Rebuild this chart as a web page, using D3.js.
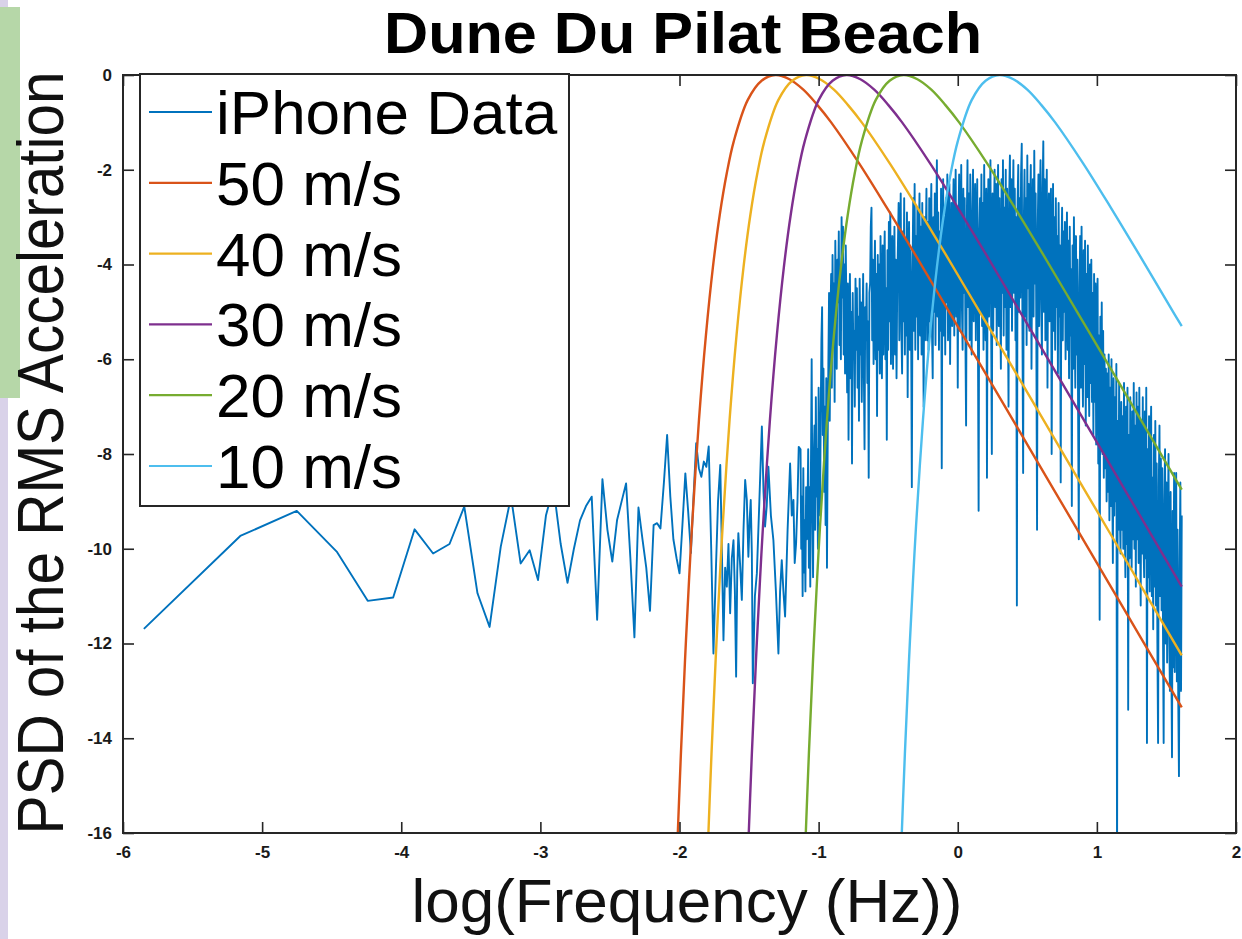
<!DOCTYPE html>
<html>
<head>
<meta charset="utf-8">
<script src="https://cdn.jsdelivr.net/npm/d3@7"></script>
<style>
  html, body { margin: 0; padding: 0; background: #ffffff; }
  svg { display: block; font-family: "Liberation Sans", Arial, Helvetica, sans-serif; }
</style>
</head>
<body>
<svg id="chart" width="1242" height="939"></svg>
<script>
// ---- axis ticks and series labels ----
const xTicks = [-6, -5, -4, -3, -2, -1, 0, 1, 2];
const yTicks = [0, -2, -4, -6, -8, -10, -12, -14, -16];
const seriesNames = ["iPhone Data", "50 m/s", "40 m/s", "30 m/s", "20 m/s", "10 m/s"];
const seriesColors = ["#0072BD", "#D95319", "#EDB120", "#7E2F8E", "#77AC30", "#4DBEEE"];

// ---- measured PSD: low-frequency bins as [log f, psd] ----
const psdLow = [
  [-5.850, -11.69], [-5.157, -9.73], [-4.751, -9.20], [-4.464, -10.06], [-4.241, -11.10],
  [-4.058, -11.03], [-3.904, -9.59], [-3.771, -10.10], [-3.653, -9.90], [-3.547, -9.11],
  [-3.452, -10.94], [-3.365, -11.65], [-3.285, -9.96], [-3.211, -8.90], [-3.142, -10.31],
  [-3.077, -10.03], [-3.017, -10.66], [-2.960, -9.30], [-2.906, -8.70], [-2.854, -9.90],
  [-2.805, -10.72], [-2.759, -10.00], [-2.715, -9.40], [-2.672, -9.10], [-2.631, -8.90],
  [-2.592, -11.50], [-2.554, -8.53], [-2.518, -9.60], [-2.483, -10.27], [-2.449, -9.40],
  [-2.416, -9.00], [-2.384, -8.62], [-2.353, -10.20], [-2.324, -11.87], [-2.295, -9.13],
  [-2.266, -9.80], [-2.239, -10.40], [-2.212, -11.31], [-2.186, -9.50], [-2.161, -9.46],
  [-2.137, -9.57], [-2.112, -8.60], [-2.089, -7.60], [-2.066, -8.90], [-2.044, -9.80],
  [-2.021, -10.20], [-2.000, -10.52], [-1.979, -9.50], [-1.958, -8.41], [-1.938, -9.20],
  [-1.918, -10.09], [-1.899, -8.90], [-1.880, -7.77], [-1.861, -8.30], [-1.843, -8.48],
  [-1.825, -8.16], [-1.807, -8.27], [-1.790, -7.84], [-1.772, -10.00], [-1.756, -12.21],
  [-1.739, -10.50], [-1.723, -9.00], [-1.707, -8.23], [-1.695, -10.10], [-1.684, -11.93],
  [-1.672, -10.40], [-1.660, -10.80], [-1.648, -9.90], [-1.636, -11.36], [-1.624, -10.20],
  [-1.612, -9.82], [-1.602, -10.90], [-1.593, -12.70], [-1.585, -10.50], [-1.577, -9.67],
  [-1.565, -10.30], [-1.552, -11.08], [-1.540, -9.60], [-1.528, -8.55], [-1.516, -8.97],
  [-1.505, -10.17], [-1.496, -9.40], [-1.488, -8.97], [-1.480, -10.10], [-1.473, -12.84],
  [-1.458, -11.00], [-1.444, -10.52], [-1.426, -9.00], [-1.408, -7.42], [-1.396, -8.80],
  [-1.385, -9.53], [-1.373, -9.10], [-1.361, -8.27], [-1.343, -9.30], [-1.325, -9.82],
  [-1.307, -10.90], [-1.289, -12.21], [-1.277, -10.90], [-1.265, -10.24], [-1.253, -10.90],
  [-1.241, -11.43], [-1.223, -9.60], [-1.205, -8.20], [-1.193, -9.30], [-1.181, -8.97],
  [-1.172, -10.30], [-1.162, -9.89], [-1.152, -9.00], [-1.143, -7.85]
];

// ---- measured PSD: dense bins, sampled every 0.005 in log f from -1.13 to 1.61 ----
const psdDenseStart = -1.13;
const psdDenseStep = 0.005;
const psdDense = [
  -7.9, -10.0, -8.9, -11.0, -8.3, -10.5, -9.4, -10.9, -8.7, -9.8, -9.2, -7.9, -10.4, -8.7, -10.8, -8.2, -6.0, -9.0, -10.6, -8.1,
  -7.4, -9.6, -6.8, -8.9, -7.9, -10.0, -6.6, -8.4, -9.3, -7.2, -5.6, -4.9, -7.6, -6.2, -8.8, -7.0, -9.5, -6.4, -10.4, -7.8,
  -6.1, -4.6, -7.3, -5.2, -4.2, -6.6, -3.8, -5.5, -4.4, -6.9, -3.5, -5.0, -6.2, -3.9, -4.8, -3.3, -5.7, -4.1, -6.0, -3.0,
  -4.7, -3.2, -5.9, -4.0, -6.3, -3.6, -5.1, -6.7, -4.4, -7.7, -5.3, -4.2, -6.4, -5.0, -8.2, -4.6, -6.0, -5.4, -7.0, -4.3,
  -5.8, -4.5, -6.6, -5.1, -7.3, -4.3, -5.9, -4.8, -6.9, -5.5, -4.2, -6.2, -7.9, -4.9, -5.6, -4.4, -6.5, -5.2, -8.5, -4.6,
  -4.4, -3.2, -2.8, -5.6, -3.9, -6.1, -4.5, -3.5, -6.0, -4.2, -7.2, -3.8, -5.8, -4.0, -6.3, -3.4, -5.4, -6.4, -3.6, -5.9,
  -4.1, -3.3, -6.0, -4.5, -7.7, -3.7, -5.8, -3.1, -5.2, -2.9, -6.1, -4.0, -3.4, -6.2, -4.6, -3.2, -5.9, -3.9, -6.4, -4.4,
  -3.6, -2.7, -5.6, -3.9, -2.5, -5.4, -6.3, -3.3, -5.2, -2.6, -5.9, -3.5, -5.5, -2.9, -6.8, -4.0, -3.1, -5.8, -3.7, -5.3,
  -8.7, -4.2, -2.6, -5.4, -2.3, -5.8, -3.4, -5.1, -2.8, -6.0, -3.6, -2.5, -5.5, -3.2, -5.9, -2.7, -4.9, -7.0, -3.0, -5.6,
  -3.5, -2.4, -5.6, -3.1, -5.8, -2.6, -5.2, -3.3, -2.3, -5.4, -6.4, -3.0, -5.0, -2.5, -5.7, -3.4, -1.8, -5.1, -2.9, -5.8,
  -3.3, -5.4, -2.4, -8.3, -3.8, -2.2, -5.5, -3.0, -5.9, -2.6, -4.8, -2.1, -5.6, -3.4, -2.3, -6.1, -3.9, -2.7, -5.3, -3.1,
  -2.2, -5.5, -3.5, -2.0, -5.1, -2.8, -6.6, -3.2, -2.1, -5.4, -3.6, -1.9, -4.9, -5.8, -2.4, -4.6, -2.6, -5.5, -7.4, -3.1,
  -1.8, -4.9, -2.5, -5.6, -2.1, -4.7, -5.9, -2.9, -2.0, -5.2, -3.1, -2.3, -5.6, -3.6, -2.2, -5.4, -9.2, -3.3, -2.6, -5.0,
  -2.1, -5.3, -2.7, -5.8, -1.9, -4.5, -5.6, -2.4, -8.5, -3.5, -2.2, -5.1, -2.9, -1.8, -5.2, -8.0, -2.5, -5.4, -3.0, -2.0,
  -4.9, -2.3, -5.7, -3.1, -1.9, -5.3, -2.6, -4.8, -6.2, -2.2, -4.6, -1.8, -5.5, -2.8, -4.9, -2.0, -5.8, -2.4, -4.7, -7.0,
  -2.5, -1.7, -4.9, -2.2, -5.4, -2.9, -1.8, -4.6, -2.4, -5.6, -3.0, -11.2, -2.7, -1.9, -5.0, -2.6, -4.7, -2.1, -1.45, -5.3,
  -8.4, -3.1, -2.0, -5.1, -2.6, -5.7, -1.7, -4.5, -2.3, -5.4, -2.9, -1.9, -6.2, -3.5, -2.2, -5.1, -1.6, -4.4, -2.5, -5.6,
  -9.6, -3.2, -2.1, -5.3, -2.7, -1.8, -4.8, -5.9, -2.4, -1.4, -5.0, -2.2, -5.6, -3.0, -2.0, -6.6, -3.4, -2.5, -5.2, -2.8,
  -2.4, -8.0, -4.6, -2.3, -5.4, -3.0, -5.8, -2.6, -4.9, -3.4, -6.3, -2.7, -5.1, -3.6, -8.6, -3.9, -2.8, -5.6, -3.3, -5.0,
  -3.1, -6.0, -4.0, -2.9, -5.8, -3.5, -6.4, -3.2, -5.5, -4.1, -9.1, -3.6, -6.2, -3.0, -5.1, -6.6, -3.4, -5.9, -3.9, -7.0,
  -9.8, -4.5, -3.4, -6.6, -3.2, -5.8, -7.0, -3.7, -6.1, -3.5, -7.4, -4.2, -6.8, -3.6, -5.9, -7.2, -4.0, -6.5, -3.9, -6.9,
  -4.6, -7.6, -4.2, -6.9, -4.4, -7.8, -5.0, -4.3, -8.2, -5.5, -11.5, -5.1, -7.9, -4.8, -8.0, -5.4, -8.5, -5.9, -8.3, -6.2,
  -9.0, -6.3, -8.8, -5.9, -9.4, -6.6, -9.1, -6.0, -8.4, -10.3, -6.4, -9.3, -6.8, -9.0, -6.1, -16.8, -7.3, -9.6, -6.5, -9.2,
  -10.1, -6.9, -9.6, -7.2, -10.0, -6.5, -9.4, -10.6, -7.0, -9.9, -6.6, -13.4, -7.6, -10.2, -6.8, -9.5, -10.4, -7.1, -9.8, -6.5,
  -10.0, -7.4, -10.8, -6.7, -9.8, -7.0, -10.3, -6.6, -9.5, -11.2, -7.3, -10.1, -6.8, -9.9, -10.6, -7.1, -10.2, -6.6, -14.1, -7.9,
  -10.6, -7.2, -10.9, -8.0, -7.0, -11.0, -8.5, -11.7, -7.6, -10.8, -7.3, -11.2, -8.2, -12.0, -14.1, -8.7, -7.4, -11.0, -8.1, -11.3,
  -8.3, -11.6, -14.1, -9.0, -7.9, -12.0, -8.6, -12.4, -9.5, -8.0, -11.8, -13.0, -8.8, -12.2, -14.4, -9.2, -12.5, -8.4, -12.6, -9.9,
  -8.4, -12.8, -9.6, -13.2, -14.8, -10.4, -8.6, -13.0, -9.3
];

// ---- wind-speed model spectra as [log f, psd] ----
const model50 = [
  [-2.02, -16.6], [-1.99, -14.33], [-1.96, -12.33], [-1.93, -10.58], [-1.91, -9.53],
  [-1.86, -7.28], [-1.81, -5.49], [-1.76, -4.06], [-1.71, -2.94], [-1.66, -2.07],
  [-1.61, -1.40], [-1.51, -0.53], [-1.41, -0.12], [-1.31, 0], [-1.21, -0.09],
  [-1.11, -0.31], [-1.01, -0.63], [-0.91, -1.0], [-0.71, -1.86], [-0.51, -2.80],
  [-0.31, -3.77], [-0.06, -5.01], [0.19, -6.25], [0.69, -8.75], [1.19, -11.25], [1.61, -13.35]
];
const model40 = [
  [-1.80, -16.6], [-1.77, -14.33], [-1.74, -12.33], [-1.71, -10.58], [-1.69, -9.53],
  [-1.64, -7.28], [-1.59, -5.49], [-1.54, -4.06], [-1.49, -2.94], [-1.44, -2.07],
  [-1.39, -1.40], [-1.29, -0.53], [-1.19, -0.12], [-1.09, 0], [-0.99, -0.09],
  [-0.89, -0.31], [-0.79, -0.63], [-0.69, -1.0], [-0.49, -1.86], [-0.29, -2.80],
  [-0.09, -3.77], [0.16, -5.01], [0.41, -6.25], [0.91, -8.75], [1.41, -11.25], [1.61, -12.25]
];
const model30 = [
  [-1.51, -16.6], [-1.48, -14.33], [-1.45, -12.33], [-1.42, -10.58], [-1.40, -9.53],
  [-1.35, -7.28], [-1.30, -5.49], [-1.25, -4.06], [-1.20, -2.94], [-1.15, -2.07],
  [-1.10, -1.40], [-1.00, -0.53], [-0.90, -0.12], [-0.80, 0], [-0.70, -0.09],
  [-0.60, -0.31], [-0.50, -0.63], [-0.40, -1.0], [-0.20, -1.86], [0.00, -2.80],
  [0.20, -3.77], [0.45, -5.01], [0.70, -6.25], [1.20, -8.75], [1.61, -10.80]
];
const model20 = [
  [-1.10, -16.6], [-1.07, -14.33], [-1.04, -12.33], [-1.01, -10.58], [-0.99, -9.53],
  [-0.94, -7.28], [-0.89, -5.49], [-0.84, -4.06], [-0.79, -2.94], [-0.74, -2.07],
  [-0.69, -1.40], [-0.59, -0.53], [-0.49, -0.12], [-0.39, 0], [-0.29, -0.09],
  [-0.19, -0.31], [-0.09, -0.63], [0.01, -1.0], [0.21, -1.86], [0.41, -2.80],
  [0.61, -3.77], [0.86, -5.01], [1.11, -6.25], [1.61, -8.75]
];
const model10 = [
  [-0.41, -16.6], [-0.38, -14.33], [-0.35, -12.33], [-0.32, -10.58], [-0.30, -9.53],
  [-0.25, -7.28], [-0.20, -5.49], [-0.15, -4.06], [-0.10, -2.94], [-0.05, -2.07],
  [0.00, -1.40], [0.10, -0.53], [0.20, -0.12], [0.30, 0], [0.40, -0.09],
  [0.50, -0.31], [0.60, -0.63], [0.70, -1.0], [0.90, -1.86], [1.10, -2.80],
  [1.30, -3.77], [1.55, -5.01], [1.61, -5.30]
];

// ---- layout ----
const plot = { left: 123, right: 1236, top: 75, bottom: 833 };
const axisColor = "#262626";

const svg = d3.select("#chart");

// side strips along the left edge
svg.append("rect").attr("x", 0).attr("y", 0).attr("width", 8).attr("height", 939).attr("fill", "#d9d2e9");
svg.append("rect").attr("x", 0).attr("y", 7).attr("width", 20).attr("height", 391).attr("fill", "#b6d7a8");

const x = d3.scaleLinear().domain([-6, 2]).range([plot.left, plot.right]);
const y = d3.scaleLinear().domain([-16, 0]).range([plot.bottom, plot.top]);

svg.append("defs").append("clipPath").attr("id", "plot-clip")
  .append("rect")
  .attr("x", plot.left).attr("y", plot.top)
  .attr("width", plot.right - plot.left).attr("height", plot.bottom - plot.top);

const line = d3.line().x(d => x(d[0])).y(d => y(d[1]));
const smooth = d3.line().x(d => x(d[0])).y(d => y(d[1])).curve(d3.curveCatmullRom.alpha(0.5));

// measured series: low bins followed by the dense bins
const psdAll = psdLow.concat(psdDense.map((v, i) => [+(psdDenseStart + i * psdDenseStep).toFixed(3), v]));

const plotArea = svg.append("g").attr("clip-path", "url(#plot-clip)");

plotArea.append("path")
  .datum(psdAll)
  .attr("d", line)
  .attr("fill", "none")
  .attr("stroke", seriesColors[0])
  .attr("stroke-width", 1.9)
  .attr("stroke-linejoin", "round");

const models = [model50, model40, model30, model20, model10];
models.forEach((m, i) => {
  plotArea.append("path")
    .datum(m)
    .attr("d", smooth)
    .attr("fill", "none")
    .attr("stroke", seriesColors[i + 1])
    .attr("stroke-width", 2.4);
});

// ---- axes (ticks point inward on all four sides) ----
const fmt = d => String(d);
const tickLen = 11;

const gLeft = svg.append("g").attr("transform", `translate(${plot.left},0)`)
  .call(d3.axisLeft(y).tickValues(yTicks).tickFormat(fmt).tickSizeInner(-tickLen).tickSizeOuter(0).tickPadding(11));
const gBottom = svg.append("g").attr("transform", `translate(0,${plot.bottom})`)
  .call(d3.axisBottom(x).tickValues(xTicks).tickFormat(fmt).tickSizeInner(-tickLen).tickSizeOuter(0).tickPadding(13));
const gRight = svg.append("g").attr("transform", `translate(${plot.right},0)`)
  .call(d3.axisRight(y).tickValues(yTicks).tickFormat("").tickSizeInner(-tickLen).tickSizeOuter(0));
const gTop = svg.append("g").attr("transform", `translate(0,${plot.top})`)
  .call(d3.axisTop(x).tickValues(xTicks).tickFormat("").tickSizeInner(-tickLen).tickSizeOuter(0));

[gLeft, gBottom, gRight, gTop].forEach(g => {
  g.select(".domain").remove();
  g.selectAll(".tick line").attr("stroke", axisColor).attr("stroke-width", 1.6);
  g.selectAll(".tick text")
    .attr("fill", "#1a1a1a")
    .style("font-size", "17px")
    .style("font-weight", "bold")
    .style("font-family", "'Liberation Sans', Arial, sans-serif");
});

svg.append("rect")
  .attr("x", plot.left).attr("y", plot.top)
  .attr("width", plot.right - plot.left).attr("height", plot.bottom - plot.top)
  .attr("fill", "none").attr("stroke", axisColor).attr("stroke-width", 2);

// ---- titles ----
svg.append("text")
  .attr("x", 683).attr("y", 53)
  .attr("text-anchor", "middle")
  .attr("font-size", 58).attr("font-weight", "bold")
  .attr("textLength", 598).attr("lengthAdjust", "spacingAndGlyphs")
  .attr("fill", "#000")
  .text("Dune Du Pilat Beach");

svg.append("text")
  .attr("x", 687).attr("y", 922)
  .attr("text-anchor", "middle")
  .attr("font-size", 62)
  .attr("textLength", 551).attr("lengthAdjust", "spacingAndGlyphs")
  .attr("fill", "#111")
  .text("log(Frequency (Hz))");

svg.append("text")
  .attr("transform", "translate(63,453) rotate(-90)")
  .attr("text-anchor", "middle")
  .attr("font-size", 64)
  .attr("textLength", 763).attr("lengthAdjust", "spacingAndGlyphs")
  .attr("fill", "#111")
  .text("PSD of the RMS Acceleration");

// ---- legend ----
const legend = svg.append("g");
legend.append("rect")
  .attr("x", 140).attr("y", 74).attr("width", 429).attr("height", 432)
  .attr("fill", "#ffffff").attr("stroke", axisColor).attr("stroke-width", 2);

const rowY = d3.scalePoint().domain(seriesNames).range([112, 466]);
seriesNames.forEach((name, i) => {
  const yy = rowY(name);
  legend.append("line")
    .attr("x1", 149).attr("x2", 212).attr("y1", yy).attr("y2", yy)
    .attr("stroke", seriesColors[i]).attr("stroke-width", 2.2);
  legend.append("text")
    .attr("x", 216).attr("y", yy + 22)
    .attr("font-size", 62)
    .attr("fill", "#000")
    .text(name);
});
</script>
</body>
</html>
